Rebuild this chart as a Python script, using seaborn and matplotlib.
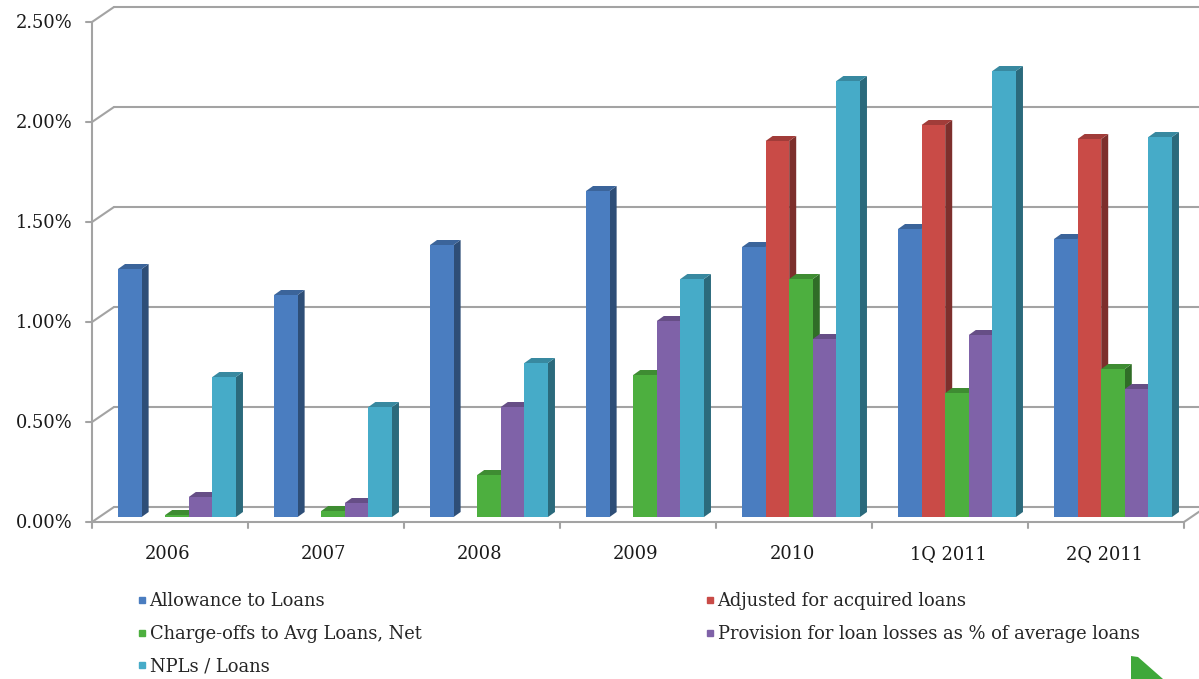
import numpy as np
import pandas as pd
import matplotlib
matplotlib.use("Agg")
import matplotlib.pyplot as plt
import matplotlib.colors as mcolors
from matplotlib.patches import Polygon
from matplotlib.lines import Line2D
from matplotlib.transforms import ScaledTranslation
import seaborn as sns

# ---- data (percent) ----
periods = ["2006", "2007", "2008", "2009", "2010", "1Q 2011", "2Q 2011"]
allowance = [1.24, 1.11, 1.36, 1.63, 1.35, 1.44, 1.39]
adjusted = [np.nan, np.nan, np.nan, np.nan, 1.88, 1.96, 1.89]
charge_offs = [0.01, 0.03, 0.21, 0.71, 1.19, 0.62, 0.74]
provision = [0.10, 0.07, 0.55, 0.98, 0.89, 0.91, 0.64]
npls = [0.70, 0.55, 0.77, 1.19, 2.18, 2.23, 1.90]

series_names = [
    "Allowance to Loans",
    "Adjusted for acquired loans",
    "Charge-offs to Avg Loans, Net",
    "Provision for loan losses as % of average loans",
    "NPLs / Loans",
]
series_values = [allowance, adjusted, charge_offs, provision, npls]
colors = ["#4A7DC0", "#C94B47", "#4DAF3F", "#7F62A8", "#46ABC8"]
y_ticks = [0.0, 0.5, 1.0, 1.5, 2.0, 2.5]

rows = []
for name, vals in zip(series_names, series_values):
    for p, v in zip(periods, vals):
        if not np.isnan(v):
            rows.append({"period": p, "value": v, "series": name})
df = pd.DataFrame(rows)

sns.set_theme(style="white")
plt.rcParams["font.family"] = ["DejaVu Serif", "Liberation Serif"]
FS = 12.9

W, H = 1199, 679
fig = plt.figure(figsize=(W / 100, H / 100), dpi=100)
fig.patch.set_facecolor("white")

# Axes = plane of the bars' front faces
AX_L, AX_R, AX_B, AX_T = 99, 1191, 517, 17
ax = fig.add_axes([AX_L / W, 1 - AX_B / H, (AX_R - AX_L) / W, (AX_B - AX_T) / H])
ax.set_facecolor("none")

sns.barplot(
    data=df, x="period", y="value", hue="series",
    order=periods, hue_order=series_names, palette=colors,
    saturation=1, width=0.756, errorbar=None, legend=False, ax=ax,
    linewidth=0,
)
ax.set_xlim(-0.5, 6.5)
ax.set_ylim(0, 2.5)
ax.set_xlabel("")
ax.set_ylabel("")
for s in ax.spines.values():
    s.set_visible(False)

# pixel -> data conversion for the oblique projection
sx = 7.0 / (AX_R - AX_L)
sy = 2.5 / (AX_B - AX_T)

def off(x, y, dxp, dyp):
    return x + dxp * sx, y + dyp * sy

BAR_DEPTH = (7, 5)      # depth of each bar
FRONT = (-7, -5)        # front plane relative to bar faces
BACK = (15, 10)         # back wall relative to bar faces

grid_col = "#A3A3A3"
lw = 1.5

# back wall gridlines
for v in y_ticks:
    x0, y0 = off(-0.5, v, *BACK)
    x1, y1 = off(6.5, v, *BACK)
    ax.plot([x0, x1], [y0, y1], color=grid_col, lw=lw, clip_on=False, zorder=0.5)
    # side wall connector from front axis to back wall
    fx, fy = off(-0.5, v, *FRONT)
    ax.plot([fx, x0], [fy, y0], color=grid_col, lw=lw, clip_on=False, zorder=0.5)
    # value tick on the front axis
    tx, _ = off(-0.5, v, FRONT[0] - 6, 0)
    ax.plot([tx, fx], [fy, fy], color=grid_col, lw=lw, clip_on=False, zorder=0.5)

# front value axis
fx0, fy0 = off(-0.5, 0, *FRONT)
fx1, fy1 = off(-0.5, 2.5, *FRONT)
ax.plot([fx0, fx1], [fy0, fy1], color=grid_col, lw=lw, clip_on=False, zorder=0.5)

# floor front edge, right edge and category ticks
ex0, ey0 = off(-0.5, 0, *FRONT)
ex1, ey1 = off(6.5, 0, *FRONT)
ax.plot([ex0, ex1], [ey0, ey1], color=grid_col, lw=lw, clip_on=False, zorder=0.5)
bx1, by1 = off(6.5, 0, *BACK)
ax.plot([ex1, bx1], [ey1, by1], color=grid_col, lw=lw, clip_on=False, zorder=0.5)
for b in np.arange(-0.5, 7.0, 1.0):
    tx, ty = off(b, 0, *FRONT)
    _, ty2 = off(b, 0, FRONT[0], FRONT[1] - 6)
    ax.plot([tx, tx], [ty, ty2], color=grid_col, lw=lw, clip_on=False, zorder=0.5)

# 3D faces on every bar, stacked left to right
rects = []
for cont, col in zip(ax.containers, [c for c, vals in zip(colors, series_values)
                                     if not all(np.isnan(vals))]):
    for r in cont.patches:
        rects.append((r, col))
rects.sort(key=lambda t: t[0].get_x())
for i, (r, col) in enumerate(rects):
    z = 2 + i * 0.01
    x0, w, h = r.get_x(), r.get_width(), r.get_height()
    rgb = np.array(mcolors.to_rgb(col))
    top_c = rgb * 0.80
    side_c = rgb * 0.62
    dx, dy = BAR_DEPTH[0] * sx, BAR_DEPTH[1] * sy
    side = Polygon([(x0 + w, 0), (x0 + w + dx, dy), (x0 + w + dx, h + dy), (x0 + w, h)],
                   closed=True, facecolor=side_c, edgecolor="none", zorder=z, clip_on=False)
    top = Polygon([(x0, h), (x0 + w, h), (x0 + w + dx, h + dy), (x0 + dx, h + dy)],
                  closed=True, facecolor=top_c, edgecolor="none", zorder=z + 0.001, clip_on=False)
    ax.add_patch(side)
    ax.add_patch(top)
    r.set_zorder(z + 0.002)
    r.set_clip_on(False)

# tick labels
ax.set_yticks(y_ticks)
ax.set_yticklabels([f"{v:.2f}%" for v in y_ticks])
ax.set_xticks(range(len(periods)))
ax.set_xticklabels(periods)
ax.tick_params(axis="y", length=0, pad=19, labelsize=FS, colors="#1a1a1a")
ax.tick_params(axis="x", length=0, pad=20, labelsize=FS, colors="#1a1a1a")
for lab in ax.get_yticklabels():
    lab.set_transform(lab.get_transform() + ScaledTranslation(0, -0.04, fig.dpi_scale_trans))
for lab in ax.get_xticklabels():
    lab.set_transform(lab.get_transform() + ScaledTranslation(-0.09, 0, fig.dpi_scale_trans))

# legend in two columns
def handle(c):
    return Line2D([], [], marker="s", linestyle="none", markersize=4.5,
                  markerfacecolor=c, markeredgecolor=c)

leg_kw = dict(loc="upper left", frameon=False, fontsize=FS, handlelength=0.55,
              handletextpad=0.15, labelspacing=0.83, borderpad=0, borderaxespad=0)
left_idx = [0, 2, 4]
right_idx = [1, 3]
fig.legend([handle(colors[i]) for i in left_idx], [series_names[i] for i in left_idx],
           bbox_to_anchor=(137 / W, 1 - 592 / H), **leg_kw)
fig.legend([handle(colors[i]) for i in right_idx], [series_names[i] for i in right_idx],
           bbox_to_anchor=(705 / W, 1 - 592 / H), **leg_kw)

# corner logo fragment
pts = [(1131, 656), (1138, 657), (1163, 679), (1131, 679)]
fig.patches.append(Polygon([(x / W, 1 - y / H) for x, y in pts], closed=True,
                           transform=fig.transFigure, facecolor="#3FA83A",
                           edgecolor="none"))

fig.savefig("out.png", dpi=100)
